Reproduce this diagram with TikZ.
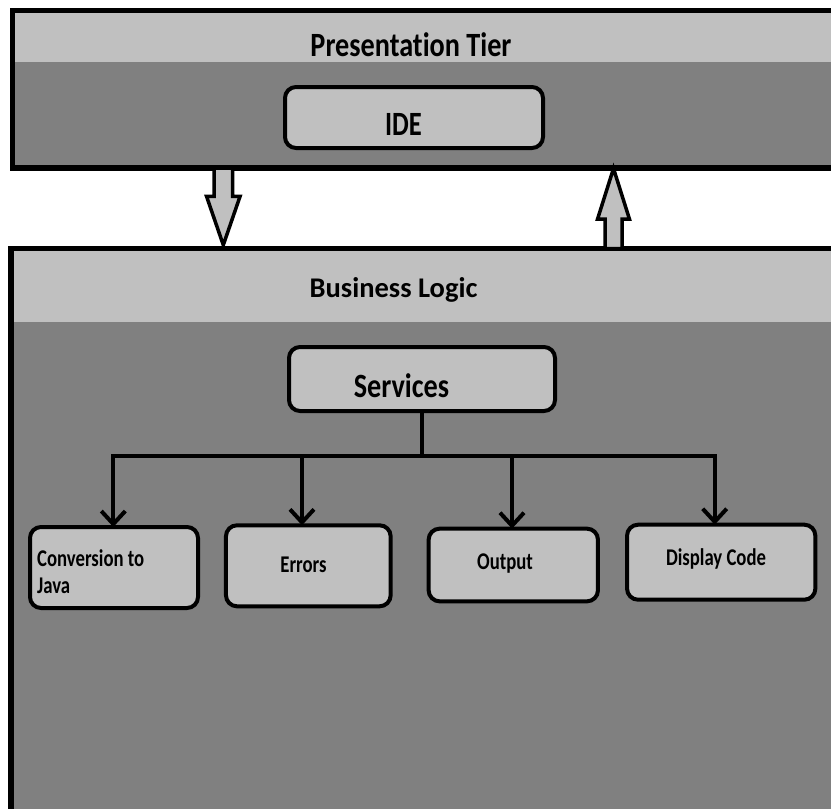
\documentclass[tikz,border=0pt]{standalone}
\usepackage{fontspec}
\usetikzlibrary{arrows.meta,shapes.arrows,calc}
\newfontfamily\headfont[FakeStretch=0.83,Ligatures=NoCommon]{Carlito}
\newfontfamily\widefont[Ligatures=NoCommon]{Carlito}
\newfontfamily\narrowfont[FakeStretch=0.78,Ligatures=NoCommon]{Carlito}
\definecolor{paneLight}{HTML}{C0C0C0}
\definecolor{paneDark}{HTML}{808080}
\tikzset{
  tier/.style={draw=black, line width=5.5pt, fill=paneDark, anchor=north west,
    outer sep=0pt, inner sep=0pt, minimum width=900pt},
  band/.style={path picture={\fill[paneLight] (path picture bounding box.north west)
    rectangle ([yshift=-#1]path picture bounding box.north east);}},
  box/.style={draw=black, line width=4pt, fill=paneLight, rounded corners=11pt,
    outer sep=0pt, inner sep=0pt},
  bigtext/.style={anchor=base, inner sep=0pt, font=\headfont\bfseries\fontsize{34}{40}\selectfont},
  smalltext/.style={anchor=base, inner sep=0pt, font=\narrowfont\bfseries\fontsize{24}{27}\selectfont},
  blockarrow/.style={single arrow, draw=black, line width=3.5pt, fill=paneLight,
    outer sep=0pt, line join=miter, anchor=tail},
  conn/.style={draw=black, line width=4pt},
  tipped/.style={conn, -{Straight Barb[length=13pt,width=24pt]}}
}
\begin{document}
\begin{tikzpicture}[x=1pt,y=-1pt]
\useasboundingbox (0,0) rectangle (831,809);
\clip (0,0) rectangle (831,809);
\fill[white] (0,0) rectangle (831,809);

% presentation tier
\node[tier, band=52pt, minimum height=157.7pt] (pres) at (12.5,10.3) {};
\node[bigtext] (presTitle) at (411,56.7) {Presentation Tier};
\node[box, minimum width=258pt, minimum height=61pt] (ide) at (414,117.5) {};
\node[bigtext, font=\narrowfont\bfseries\fontsize{34}{40}\selectfont] (ideText) at (403.5,135) {IDE};

% business logic tier
\node[tier, band=73.5pt, minimum height=700pt] (biz) at (11,248.5) {};
\node[bigtext, font=\widefont\bfseries\fontsize{28.5}{34}\selectfont] (bizTitle) at (393.5,297) {Business Logic};
\node[box, minimum width=266pt, minimum height=64pt] (svc) at (422,379) {};
\node[bigtext, font=\headfont\bfseries\fontsize{34}{40}\selectfont] (svcText) at (401.5,397) {Services};

% block arrows between the tiers
\coordinate (downX) at (223.3,0);
\coordinate (upX) at (613.5,0);
\node[blockarrow, rotate=-90, inner sep=7.5pt, single arrow head extend=7.5pt,
  single arrow tip angle=38, minimum height=77pt] (down) at (downX |- pres.south) {};
\node[blockarrow, rotate=90, inner sep=6.75pt, single arrow head extend=7.5pt,
  single arrow tip angle=35, minimum height=80pt] (up) at (upX |- biz.north) {};

% service components
\node[box, minimum width=168pt, minimum height=81pt] (conv) at (114,567.5) {};
\node[box, minimum width=164.7pt, minimum height=81pt] (err) at (308.3,565.8) {};
\node[box, minimum width=169.3pt, minimum height=72.7pt] (out) at (513.3,565) {};
\node[box, minimum width=188.3pt, minimum height=75pt] (disp) at (721.2,562.2) {};

\node[smalltext, anchor=base west, align=left] (convText) at (37,593) {Conversion to\\Java};
\node[smalltext] (errText) at (303.5,572) {Errors};
\node[smalltext] (outText) at (505,569) {Output};
\node[smalltext] (dispText) at (716,565) {Display Code};

% connectors from services
\coordinate (split) at ($(svc.south)+(0,44.5)$);
\draw[conn] (svc.south) -- (split);
\draw[tipped] (split) -| ([xshift=-0.7pt]conv.north);
\draw[tipped] (split) -| ([xshift=-6.3pt]err.north);
\draw[tipped] (split) -| ([xshift=-1.3pt]out.north);
\draw[tipped] (split) -| ([xshift=-6.5pt]disp.north);
\end{tikzpicture}
\end{document}
